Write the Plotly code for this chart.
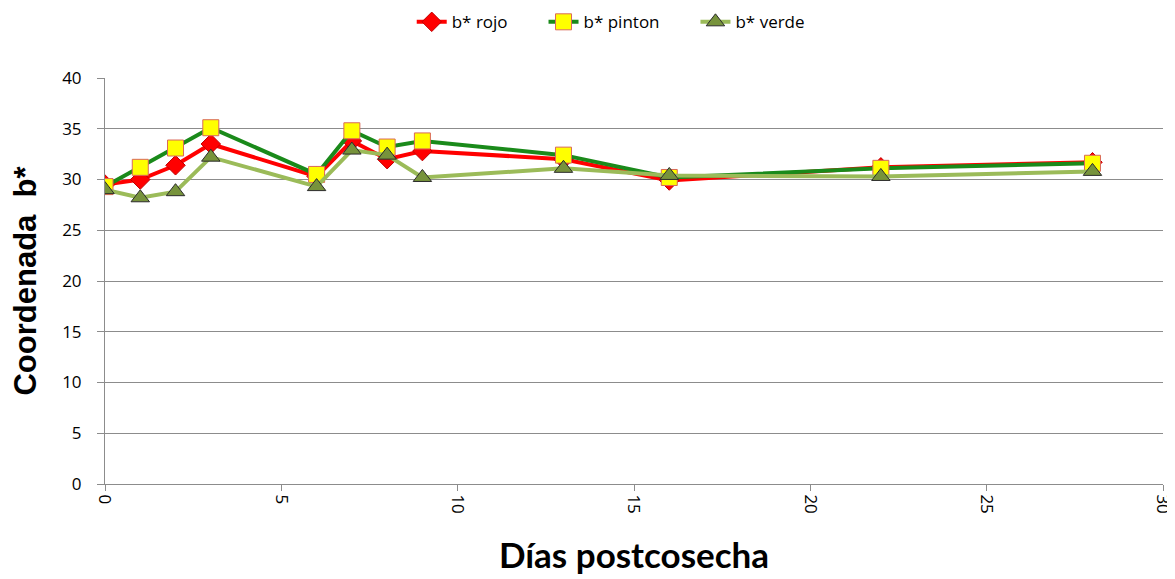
import plotly.graph_objects as go

# Days after harvest
dias = [0, 1, 2, 3, 6, 7, 8, 9, 13, 16, 22, 28]

# b* coordinate per ripeness stage
b_rojo   = [29.5, 30.0, 31.4, 33.5, 30.3, 33.8, 32.0, 32.8, 32.0, 29.9, 31.2, 31.7]
b_pinton = [29.3, 31.2, 33.1, 35.1, 30.5, 34.8, 33.2, 33.8, 32.4, 30.2, 31.1, 31.6]
b_verde  = [29.0, 28.2, 28.8, 32.2, 29.3, 32.9, 32.4, 30.2, 31.1, 30.4, 30.3, 30.8]

FONT = "'Open Sans', Lato, sans-serif"
GRID = "#8c8c8c"
PAD = "&nbsp;" * 7  # widen gaps between legend entries

fig = go.Figure()
fig.add_trace(go.Scatter(
    x=dias, y=b_rojo, name="b* rojo" + PAD, mode="lines+markers",
    line=dict(color="#ff0000", width=4),
    marker=dict(symbol="diamond", size=15, color="#ff0000",
                line=dict(color="#c00000", width=1)),
))
fig.add_trace(go.Scatter(
    x=dias, y=b_pinton, name="b* pinton" + PAD, mode="lines+markers",
    line=dict(color="#1a8a1a", width=4),
    marker=dict(symbol="square", size=16, color="#ffff00",
                line=dict(color="#d9695a", width=1)),
))
fig.add_trace(go.Scatter(
    x=dias, y=b_verde, name="b* verde", mode="lines+markers",
    line=dict(color="#9bbb59", width=4),
    marker=dict(symbol="triangle-up", size=16, color="#77933c",
                line=dict(color="#2b2b2b", width=1)),
))

# page body has an 8px margin, so the figure is shifted by 8px
fig.update_layout(
    width=1167, height=571,
    plot_bgcolor="white", paper_bgcolor="white",
    font=dict(family=FONT, color="#000000", size=17),
    margin=dict(l=97, r=12, t=70, b=95),
    legend=dict(
        orientation="h", x=0.478, xanchor="center",
        yref="container", y=0.975, yanchor="middle",
        font=dict(size=17), tracegroupgap=0,
    ),
    xaxis=dict(
        range=[0, 30], dtick=5, tickangle=90, automargin=False,
        ticklabeloverflow="allow",
        showgrid=False, zeroline=False,
        showline=True, linecolor=GRID, linewidth=1,
        ticks="outside", ticklen=6, tickcolor=GRID,
        tickfont=dict(size=17),
        title=dict(text="<b>Días postcosecha</b>", font=dict(size=35,
                   family="Lato, 'Open Sans', sans-serif"), standoff=30),
    ),
    yaxis=dict(
        range=[0, 40], dtick=5, automargin=False,
        showgrid=True, gridcolor=GRID, gridwidth=1, zeroline=False,
        showline=True, linecolor=GRID, linewidth=1,
        ticks="outside", ticklen=7, tickcolor=GRID, ticklabelstandoff=12,
        tickfont=dict(size=17),
        title=dict(text="<b>Coordenada&nbsp;&nbsp;b*</b>", font=dict(size=31,
                   family="'Liberation Sans', Arial, sans-serif"), standoff=22),
    ),
)

fig.write_html("out.html")
